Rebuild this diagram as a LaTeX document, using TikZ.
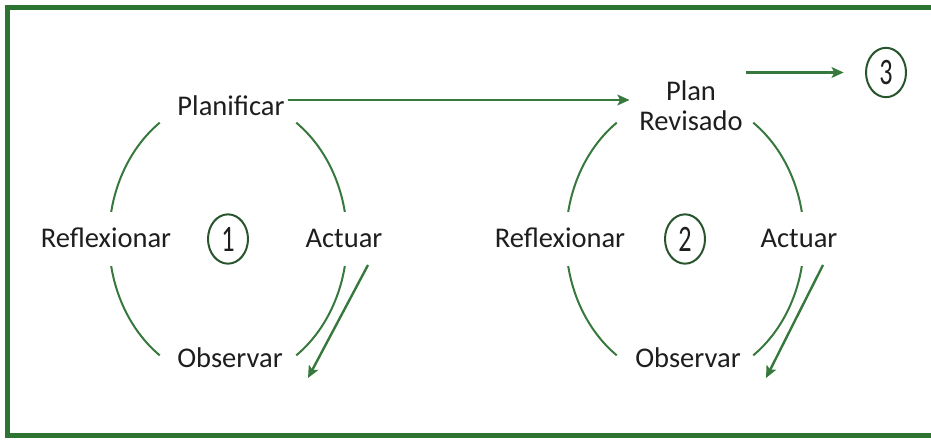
\documentclass[tikz,border=0pt]{standalone}
\usepackage{fontspec}
\setmainfont{Carlito}
\usetikzlibrary{arrows.meta,shapes.geometric,calc}

\definecolor{verdeBorde}{RGB}{45,115,50}
\definecolor{verdeLinea}{RGB}{55,120,60}
\definecolor{verdeCirculo}{RGB}{40,85,45}
\definecolor{textoNegro}{RGB}{30,30,30}

\newcommand{\cifra}[1]{\scalebox{0.7}[1]{\fontsize{28}{28}\selectfont #1}}

\tikzset{every picture/.style={line width=0.75pt}}
\tikzset{
  etiqueta/.style={font=\fontsize{21.4}{22.5}\selectfont, text=textoNegro, inner sep=2pt},
  numero/.style={ellipse, draw=verdeCirculo, line width=1.5pt, minimum width=30pt, minimum height=37pt, inner sep=0pt, text=textoNegro},
  ciclo/.style={draw=verdeLinea, line width=1.5pt},
  flecha/.style={draw=verdeLinea, line width=2.2pt, -{Stealth[length=9pt,width=8pt,inset=2pt]}},
}

\begin{document}
\begin{tikzpicture}[x=0.75pt,y=0.75pt,yscale=-1,xscale=1]
    \useasboundingbox (0,0) rectangle (931,439);

    %Shape: Frame (open to the right)
    \draw [draw=verdeBorde, line width=3.75pt] (931,7.5) -- (7.5,7.5) -- (7.5,435.5) -- (931,435.5) ;

    % Text Node
    \node [etiqueta] (p1) at (231,106) {Planificar};
    % Text Node
    \node [etiqueta] (r1) at (106,238) {Reflexionar};
    % Text Node
    \node [etiqueta] (a1) at (344,238) {Actuar};
    % Text Node
    \node [etiqueta] (o1) at (230,358) {Observar};
    % Text Node
    \node [etiqueta, align=center] (pr) at (691,106) {Plan\\Revisado};
    % Text Node
    \node [etiqueta] (r2) at (560,238) {Reflexionar};
    % Text Node
    \node [etiqueta] (a2) at (799,238) {Actuar};
    % Text Node
    \node [etiqueta] (o2) at (688,358) {Observar};

    %Shape: Ellipse
    \node [numero] (n1) at (228,239) {\cifra{1}};
    %Shape: Ellipse
    \node [numero] (n2) at (685,239) {\cifra{2}};
    %Shape: Ellipse
    \node [numero] (n3) at (886,72.5) {\cifra{3}};

    %Curve Lines: the two cycles
    \foreach \c in {n1,n2}
      \foreach \a in {11,125,191,305}
        \draw [ciclo] (\c) ++(\a:119 and 142) arc [start angle=\a, delta angle=44, x radius=119, y radius=142] ;

    %Straight Lines
    \draw [flecha, shorten >=5pt] (p1.east |- 0,100) -- (pr.west |- 0,100) ;
    \draw [flecha, shorten >=16pt] (pr.north east |- n3.west) -- (n3.west) ;
    \draw [flecha, line width=1.8pt] ($(a1)+(24,27)$) -- ($(o1)+(78,20)$) ;
    \draw [flecha, line width=1.8pt] ($(a2)+(24,27)$) -- ($(o2)+(78,20)$) ;
\end{tikzpicture}
\end{document}
